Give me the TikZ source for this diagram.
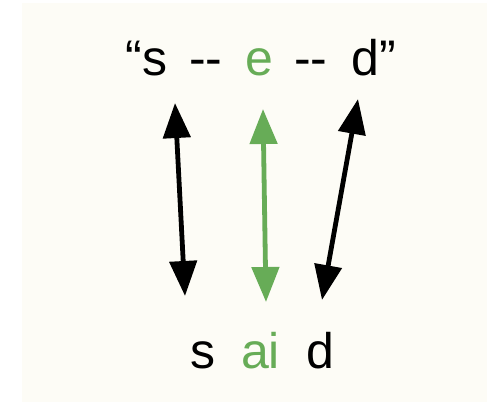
\documentclass[tikz,border=0pt]{standalone}
\usepackage{fontspec}
\setmainfont{Liberation Sans}
\usetikzlibrary{arrows.meta}
\definecolor{paper}{HTML}{FDFCF6}
\definecolor{leaf}{HTML}{67AC57}
\tikzset{
  word/.style={anchor=base, inner sep=0pt, font=\fontsize{50}{54}\selectfont},
  link/.style={line width=4.8pt, {Triangle[width=27pt,length=35pt]}-{Triangle[width=27pt,length=35pt]}},
}
\begin{document}
\begin{tikzpicture}[x=1pt,y=-1pt]
\useasboundingbox (0,0) rectangle (493,402);
\fill[white] (0,0) rectangle (493,402);
\fill[paper] (22,3) rectangle (487,402);
% top word
\node[word] (t1) at (146.5,75) {“s};
\node[word] (t2) at (205.5,75) {{-}\kern-1pt{-}};
\node[word,text=leaf] (t3) at (259.5,75) {e};
\node[word] (t4) at (310.5,75) {{-}\kern-1pt{-}};
\node[word] (t5) at (373.5,75) {d”};
% bottom word
\node[word] (b1) at (203,368) {s};
\node[word,text=leaf] (b2) at (260.5,368) {ai};
\node[word] (b3) at (320,368) {d};
% arrow ends
\coordinate (la) at (175,103);
\coordinate (lb) at (185,296);
\coordinate (ma) at (263,109);
\coordinate (mb) at (266,302);
\coordinate (ra) at (358,99);
\coordinate (rb) at (322,300);
\draw[link] (la) -- (lb);
\draw[link,leaf] (ma) -- (mb);
\draw[link] (ra) -- (rb);
\end{tikzpicture}
\end{document}
